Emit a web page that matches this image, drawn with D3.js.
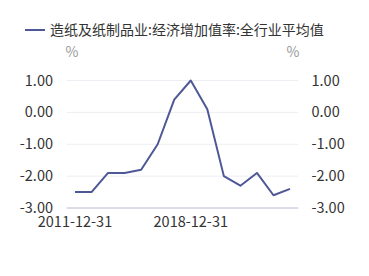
<!DOCTYPE html>
<html><head><meta charset="utf-8">
<script src="https://cdn.jsdelivr.net/npm/d3@7/dist/d3.min.js"></script>
<style>body{margin:0;background:#fff;} svg{display:block;font-family:"Microsoft YaHei","Noto Sans CJK SC",sans-serif;}</style>
</head><body><svg id="c" width="369" height="276"></svg>
<script>
const categories = ["2011-12-31","2012-12-31","2013-12-31","2014-12-31","2015-12-31","2016-12-31","2017-12-31","2018-12-31","2019-12-31","2020-12-31","2021-12-31","2022-12-31","2023-12-31","2024-12-31"];
const values = [-2.5,-2.5,-1.9,-1.9,-1.8,-1.0,0.4,1.0,0.1,-2.0,-2.3,-1.9,-2.6,-2.4];
const yTicks = [-3,-2,-1,0,1];
const xTickLabels = ["2011-12-31","2018-12-31"];
const seriesName = "造纸及纸制品业:经济增加值率:全行业平均值";

(function(){
const svg = d3.select("#c");
const mLeft = 66.7, mRight = 298.3, mTop = 80.5, mBottom = 208;
const x = d3.scaleBand().domain(categories).range([mLeft, mRight]);
const y = d3.scaleLinear().domain([-3, 1]).range([mBottom, mTop]);
const cx = d => x(d) + x.bandwidth() / 2;

svg.append("g").selectAll("line").data(yTicks.filter(t => t !== -3)).join("line")
  .attr("x1", mLeft).attr("x2", mRight)
  .attr("y1", d => y(d)).attr("y2", d => y(d))
  .attr("stroke", "#eceef3").attr("stroke-width", 1);

svg.append("line").attr("x1", mLeft).attr("x2", mRight)
  .attr("y1", y(-3)).attr("y2", y(-3))
  .attr("stroke", "#b6bad6").attr("stroke-width", 1);

svg.append("g").selectAll("text").data(yTicks).join("text")
  .attr("x", 53).attr("y", d => y(d)).attr("dy", "0.35em")
  .attr("text-anchor", "end").attr("font-size", 14.5).attr("fill", "#333")
  .text(d => d.toFixed(2));
svg.append("g").selectAll("text").data(yTicks).join("text")
  .attr("x", 311.5).attr("y", d => y(d)).attr("dy", "0.35em")
  .attr("text-anchor", "start").attr("font-size", 14.5).attr("fill", "#333")
  .text(d => d.toFixed(2));

svg.append("text").attr("x", 72).attr("y", 57).attr("text-anchor", "middle")
  .attr("font-size", 14).attr("fill", "#999").text("%");
svg.append("text").attr("x", 293).attr("y", 57).attr("text-anchor", "middle")
  .attr("font-size", 14).attr("fill", "#999").text("%");

svg.append("g").selectAll("text").data(xTickLabels).join("text")
  .attr("x", d => cx(d)).attr("y", 226.5)
  .attr("text-anchor", "middle").attr("font-size", 14.5).attr("fill", "#333")
  .text(d => d);

const line = d3.line().x((d, i) => cx(categories[i])).y(d => y(d));
svg.append("path").datum(values).attr("d", line)
  .attr("fill", "none").attr("stroke", "#4f5896").attr("stroke-width", 2)
  .attr("stroke-linejoin", "round");

svg.append("line").attr("x1", 25).attr("x2", 45).attr("y1", 30).attr("y2", 30)
  .attr("stroke", "#4f5896").attr("stroke-width", 2);
svg.append("text").attr("x", 50).attr("y", 30).attr("dy", "0.35em")
  .attr("font-size", 14).attr("fill", "#333").text(seriesName);
})();
</script></body></html>
